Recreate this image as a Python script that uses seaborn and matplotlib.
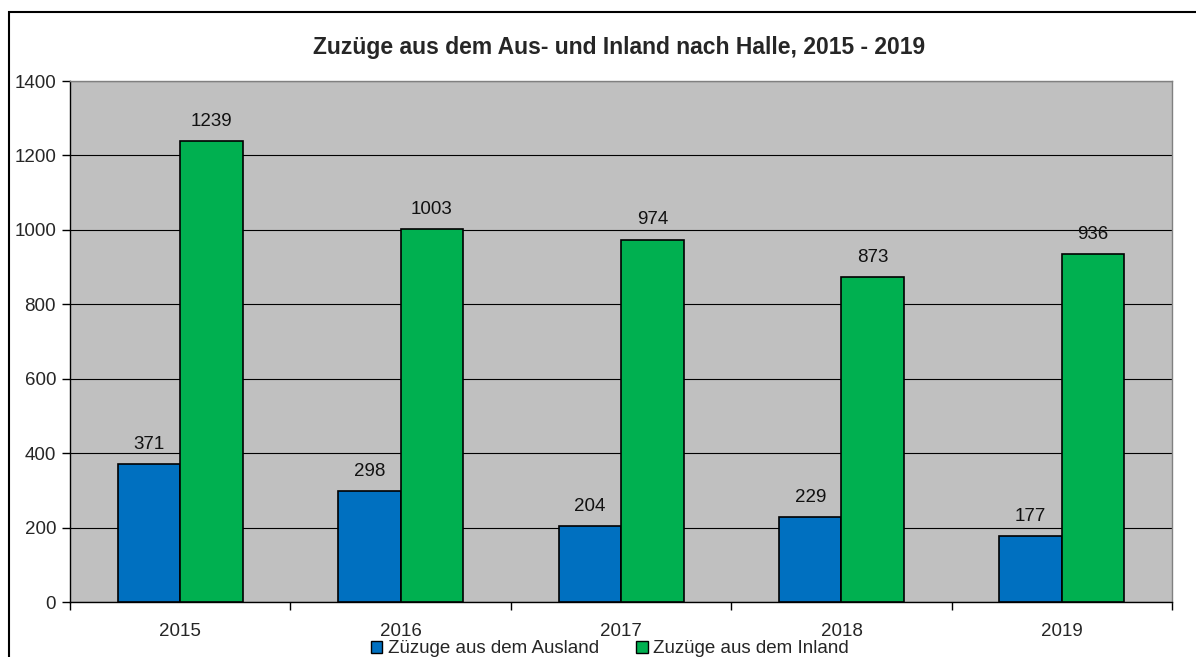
import pandas as pd
import numpy as np
import seaborn as sns
import matplotlib.pyplot as plt
from matplotlib.patches import Rectangle
from matplotlib.ticker import MultipleLocator, FixedLocator

# data
years = ["2015", "2016", "2017", "2018", "2019"]
ausland = [371, 298, 204, 229, 177]
inland = [1239, 1003, 974, 873, 936]
series_names = ["Züzuge aus dem Ausland", "Zuzüge aus dem Inland"]
colors = ["#0070C0", "#00B050"]

df = pd.DataFrame({
    "Jahr": years * 2,
    "Wert": ausland + inland,
    "Serie": [series_names[0]] * len(years) + [series_names[1]] * len(years),
})

sns.set_style("white")
plt.rcParams["font.family"] = ["Liberation Sans", "DejaVu Sans"]

fig = plt.figure(figsize=(11.96, 6.57), dpi=100)
ax = fig.add_axes([0.0585, 0.0837, 0.9215, 0.793])
ax.set_facecolor("#C0C0C0")

sns.barplot(data=df, x="Jahr", y="Wert", hue="Serie", palette=colors,
            width=0.567, edgecolor="black", linewidth=1.2, saturation=1,
            ax=ax, legend=False, zorder=3)

for cont in ax.containers:
    ax.bar_label(cont, padding=8, fontsize=13.5, color="#111111")

ax.set_ylim(0, 1400)
ax.set_xlim(-0.5, 4.5)
ax.yaxis.set_major_locator(MultipleLocator(200))
ax.grid(axis="y", color="black", linewidth=0.8, zorder=0)
ax.set_axisbelow(True)
ax.set_xlabel("")
ax.set_ylabel("")

# ticks: labels at centers, tick marks at category boundaries
ax.xaxis.set_minor_locator(FixedLocator(np.arange(-0.5, 5.0, 1.0)))
ax.tick_params(axis="x", which="major", length=0, labelsize=13.5, pad=15)
ax.tick_params(axis="x", which="minor", length=6, width=1, color="black", direction="out", bottom=True)
ax.tick_params(axis="y", which="major", length=6, width=1, color="black", direction="out", left=True, labelsize=13.5, pad=4)

for side in ["left", "bottom"]:
    ax.spines[side].set_color("black")
    ax.spines[side].set_linewidth(1)
for side in ["top", "right"]:
    ax.spines[side].set_color("#808080")
    ax.spines[side].set_linewidth(1)

fig.text(0.518, 0.928, "Zuzüge aus dem Aus- und Inland nach Halle, 2015 - 2019",
         ha="center", va="center", fontsize=16.5, fontweight="bold")

# legend
handles = [Rectangle((0, 0), 1, 1, facecolor=c, edgecolor="black", linewidth=1) for c in colors]
fig.legend(handles, series_names, loc="center", bbox_to_anchor=(0.51, 0.0125), ncol=2,
           frameon=False, fontsize=13.5, handlelength=0.6, handleheight=0.6,
           handletextpad=0.3, columnspacing=2.0, borderaxespad=0)

# outer chart border
fig.patches.append(Rectangle((9 / 1196, -0.05), 1.2, (657 - 12) / 657 + 0.05,
                             transform=fig.transFigure, fill=False,
                             edgecolor="black", linewidth=1.5, zorder=10))

fig.savefig("out.png", dpi=100)
